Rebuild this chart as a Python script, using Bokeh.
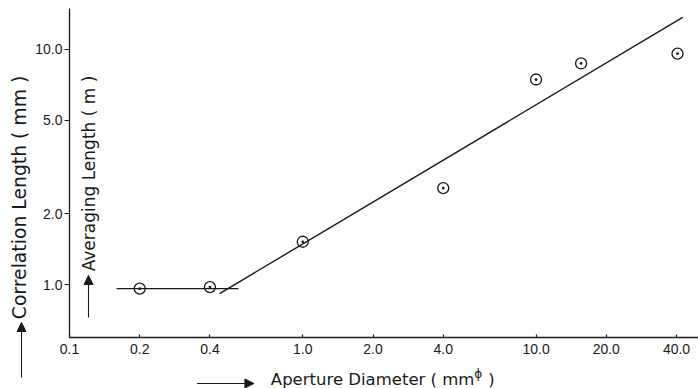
from bokeh.plotting import figure
from bokeh.layouts import row, column
from bokeh.models import FixedTicker, Label, Arrow, NormalHead, ColumnDataSource, Range1d
from bokeh.core.properties import value
from bokeh.embed import file_html
from bokeh.resources import INLINE
import math

# ---- data ----
aperture = [0.2, 0.4, 1.0, 4.0, 10.0, 15.6, 40.4]
corr_len = [0.96, 0.975, 1.52, 2.57, 7.45, 8.72, 9.6]

flat_x = [0.159, 0.53]
flat_y = [0.96, 0.96]
slope_x = [0.44, 42.5]
slope_y = [0.915, 13.7]

x_ticks = [0.1, 0.2, 0.4, 1.0, 2.0, 4.0, 10.0, 20.0, 40.0]
x_tick_labels = ["0.1", "0.2", "0.4", "1.0", "2.0", "4.0", "10.0", "20.0", "40.0"]
y_ticks = [1.0, 2.0, 5.0, 10.0]
y_tick_labels = ["1.0", "2.0", "5.0", "10.0"]

x_title = "Aperture Diameter ( mm"
x_title_sup = "\u03d5"
y_title = "Correlation Length ( mm )"
y_title2 = "Averaging Length ( m )"

INK = "#1a1a1a"
FONT = "DejaVu Sans"
TFONT = "Liberation Sans"

# ---- main plot ----
p = figure(width=666, height=361, x_axis_type="log", y_axis_type="log",
           x_range=(0.1, 49.7), y_range=(0.595, 14.94),
           output_backend="svg", toolbar_location=None,
           min_border_left=35, min_border_right=0, min_border_top=8,
           min_border_bottom=24)
p.grid.visible = False
p.outline_line_color = None

p.xaxis.ticker = FixedTicker(ticks=x_ticks, minor_ticks=[])
p.yaxis.ticker = FixedTicker(ticks=y_ticks, minor_ticks=[])
p.xaxis.major_label_overrides = {t: l for t, l in zip(x_ticks, x_tick_labels)}
p.yaxis.major_label_overrides = {t: l for t, l in zip(y_ticks, y_tick_labels)}
for ax in (p.xaxis[0], p.yaxis[0]):
    ax.axis_line_color = INK
    ax.axis_line_width = 1.3
    ax.major_tick_line_color = INK
    ax.major_tick_line_width = 1.2
    ax.minor_tick_line_color = None
    ax.major_label_text_font = TFONT
    ax.major_label_text_font_size = "14px"
    ax.major_label_text_color = INK
p.xaxis.major_tick_in = 3
p.xaxis.major_tick_out = 0
p.xaxis.major_label_standoff = 6
p.yaxis.major_tick_in = 0
p.yaxis.major_tick_out = 5
p.yaxis.major_label_standoff = 2

p.line(flat_x, flat_y, line_color=INK, line_width=1.4)
p.line(slope_x, slope_y, line_color=INK, line_width=1.4)
src = ColumnDataSource(dict(x=aperture, y=corr_len))
p.scatter("x", "y", source=src, marker="circle_dot", size=11,
          fill_color=None, line_color=INK, line_width=1.3)

p.add_layout(Label(x=56, y=173, x_units="canvas", y_units="canvas", text=y_title2,
                   angle=math.pi / 2, text_align="center", text_baseline="middle",
                   text_font=FONT, text_font_size="17px", text_color=INK))
p.add_layout(Arrow(x_start=56, y_start=317, x_end=56, y_end=275,
                   start_units="canvas", end_units="canvas",
                   line_color=INK, line_width=1.1,
                   end=NormalHead(size=9, fill_color=INK, line_color=INK)))

def strip(w, h, xr, yr):
    s = figure(width=w, height=h, x_range=Range1d(*xr), y_range=Range1d(*yr),
               output_backend="svg", toolbar_location=None,
               x_axis_location=None, y_axis_location=None,
               min_border=0, min_border_left=0, min_border_right=0,
               min_border_top=0, min_border_bottom=0)
    s.grid.visible = False
    s.outline_line_color = None
    return s

# ---- left strip: main y title ----
ls = strip(32, 388, (0, 32), (388, 0))
ls.text(x=[19], y=[197], text=[y_title], angle=math.pi / 2,
        text_align="center", text_baseline="middle",
        text_font=value(FONT), text_font_size="18.8px", text_color=INK)
ls.add_layout(Arrow(x_start=21, y_start=377, x_end=21, y_end=322,
                    line_color=INK, line_width=1.1,
                    end=NormalHead(size=9, fill_color=INK, line_color=INK)))

# ---- bottom strip: x title (its frame lines up with the main frame, x 67..698) ----
bs = strip(666, 27, (67, 698), (388, 361))
bs.text(x=[269], y=[379], text=[x_title], text_align="left",
        text_baseline="middle", text_font=value(FONT),
        text_font_size="16.5px", text_color=INK)
bs.text(x=[477], y=[373], text=[x_title_sup], text_align="center",
        text_baseline="middle", text_font=value(FONT),
        text_font_size="12px", text_color=INK)
bs.text(x=[487], y=[379], text=[")"], text_align="left",
        text_baseline="middle", text_font=value(FONT),
        text_font_size="16.5px", text_color=INK)
bs.add_layout(Arrow(x_start=195, y_start=383, x_end=252, y_end=383,
                    line_color=INK, line_width=1.1,
                    end=NormalHead(size=9, fill_color=INK, line_color=INK)))

layout = row(ls, column(p, bs, spacing=0), spacing=0)
open("out.html", "w").write(file_html(layout, INLINE))
